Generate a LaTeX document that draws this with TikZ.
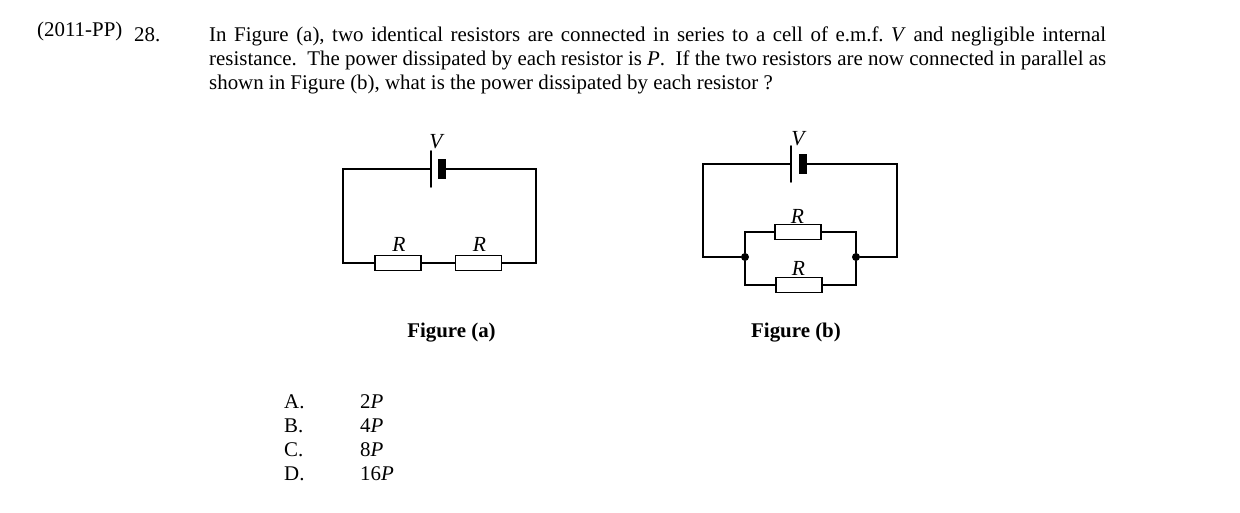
\documentclass[tikz,border=0pt]{standalone}
\usepackage{fontspec}
\setmainfont{Liberation Serif}
\frenchspacing
\newcommand{\body}{\fontsize{20.9}{24}\selectfont}
\tikzset{x=1pt,y=-1pt,
 txt/.style={anchor=base west,inner sep=0pt,font=\body},
 lab/.style={anchor=base,inner sep=0pt,font=\fontsize{21.5}{24}\selectfont\itshape},
 wire/.style={line width=1.9pt,line cap=round,line join=miter},
 res/.style={draw,line width=1.9pt,fill=white,minimum width=46pt,minimum height=15pt,inner sep=0pt},
 dot/.style={circle,fill=black,minimum size=8pt,inner sep=0pt},
 plate/.style={fill=black,inner sep=0pt,minimum width=8pt,minimum height=20pt}}
\begin{document}
\begin{tikzpicture}
\useasboundingbox (0,0) rectangle (1240,513);
\node[txt] (yr) at (37,36.5) {(2011-PP)};
\node[txt] (num) at (134,41.5) {28.};
\node[txt] (l1) at (209,41.5) {\hbox to 897pt{In Figure (a), two identical resistors are connected in series to a cell of e.m.f. \textit{V} and negligible internal}};
\node[txt] (l2) at (209,65.5) {\hbox to 897pt{resistance.\ \ The power dissipated by each resistor is \textit{P}.\ \ If the two resistors are now connected in parallel as}};
\node[txt] (l3) at (209,89.5) {shown in Figure (b), what is the power dissipated by each resistor ?};
% Figure (a)
\coordinate (atl) at (343,169);
\coordinate (atr) at (536,169);
\coordinate (abl) at (343,263);
\coordinate (abr) at (536,263);
\coordinate (ap1) at (431,169);
\coordinate (ap1t) at (431,151);
\coordinate (ap1b) at (431,187);
\node[plate] (ap2) at (442,169) {};
\node[res] (ar1) at (398,263) {};
\node[res] (ar2) at (478.5,263) {};
\draw[wire] (ap1t) -- (ap1b);
\draw[wire] (ap1) -- (atl) -- (abl) -- (ar1.west);
\draw[wire] (ar1.east) -- (ar2.west);
\draw[wire] (ar2.east) -- (abr) -- (atr) -- (ap2.east);
\node[lab] (av) at (436,148.5) {V};
\node[lab] (ar1l) at (399,252) {R};
\node[lab] (ar2l) at (479.5,252) {R};
\node[txt,anchor=base] (afig) at (451.5,337) {\bfseries Figure (a)};
% Figure (b)
\coordinate (btl) at (703,164);
\coordinate (btr) at (897,164);
\coordinate (bbl) at (703,257);
\coordinate (bbr) at (897,257);
\coordinate (bp1) at (791,164);
\coordinate (bp1t) at (791,146);
\coordinate (bp1b) at (791,182);
\node[plate] (bp2) at (803,164) {};
\node[dot] (dl) at (745,257) {};
\node[dot] (dr) at (856,257) {};
\coordinate (cul) at (745,232);
\coordinate (cur) at (856,232);
\coordinate (cll) at (745,285);
\coordinate (clr) at (856,285);
\node[res] (br1) at (798,232) {};
\node[res] (br2) at (799,285) {};
\draw[wire] (bp1t) -- (bp1b);
\draw[wire] (bp1) -- (btl) -- (bbl) -- (dl);
\draw[wire] (bp2.east) -- (btr) -- (bbr) -- (dr);
\draw[wire] (dl) -- (cul) -- (br1.west);
\draw[wire] (br1.east) -- (cur) -- (dr);
\draw[wire] (dl) -- (cll) -- (br2.west);
\draw[wire] (br2.east) -- (clr) -- (dr);
\node[lab] (bv) at (798,146) {V};
\node[lab] (br1l) at (797.5,223.5) {R};
\node[lab] (br2l) at (798.5,275.5) {R};
\node[txt,anchor=base] (bfig) at (796,337) {\bfseries Figure (b)};
% Options
\node[txt] (oa) at (284,408) {A.};
\node[txt] (ob) at (284,432) {B.};
\node[txt] (oc) at (284,456) {C.};
\node[txt] (od) at (284,480) {D.};
\node[txt] (va) at (360,408) {2\textit{P}};
\node[txt] (vb) at (360,432) {4\textit{P}};
\node[txt] (vc) at (360,456) {8\textit{P}};
\node[txt] (vd) at (360,480) {16\textit{P}};
\end{tikzpicture}
\end{document}
